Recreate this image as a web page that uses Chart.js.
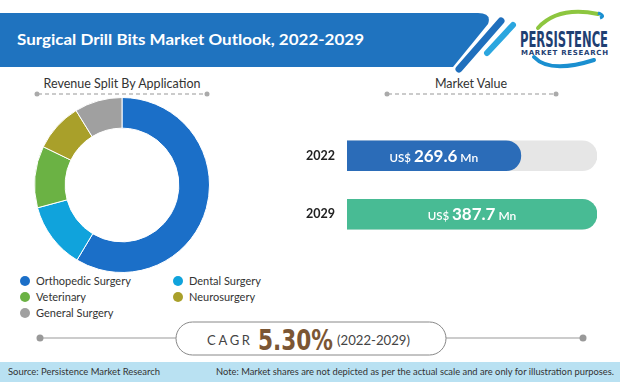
<!DOCTYPE html>
<html lang="en">
<head>
  <meta charset="UTF-8">
  <title>Surgical Drill Bits Market Outlook</title>
  <script src="https://cdn.jsdelivr.net/npm/chart.js"></script>
  <style>
    body {
      margin: 0;
      background: #ffffff;
      font-family: Lato, 'Liberation Sans', sans-serif;
    }
    #stage {
      position: relative;
      width: 620px;
      height: 382px;
      overflow: hidden;
    }
    #deco {
      position: absolute;
      left: 0;
      top: 0;
    }
    .label {
      position: absolute;
      color: #333;
      font-size: 12.5px;
      white-space: nowrap;
    }
    #donutBox {
      position: absolute;
      left: 34px;
      top: 97px;
      width: 176px;
      height: 176px;
    }
    #barBox {
      position: absolute;
      left: 300px;
      top: 115px;
      width: 297px;
      height: 140px;
    }
    #legend {
      position: absolute;
      left: 20px;
      top: 273px;
      display: grid;
      grid-template-columns: 153px auto;
      font-size: 11px;
      color: #333;
    }
    #legend div {
      height: 16px;
      line-height: 16px;
      white-space: nowrap;
    }
    #legend span {
      display: inline-block;
      width: 10px;
      height: 10px;
      border-radius: 50%;
      margin-right: 6px;
      vertical-align: -1px;
    }
  </style>
</head>
<body>
<div id="stage">
  <svg id="deco" width="620" height="382">
    <!-- header banner -->
    <path d="M0 13 L478 13 Q492 13 488 24 L453 67 L0 67 Z" fill="#1f73bf"/>
    <line x1="459" y1="69" x2="501" y2="21" stroke="#1f6fbd" stroke-width="7" stroke-linecap="round"/>
    <line x1="487" y1="53" x2="513" y2="25" stroke="#2ba6df" stroke-width="6" stroke-linecap="round"/>
    <text x="17" y="45" fill="#fff" font-family="Lato, sans-serif" font-weight="bold" font-size="16" textLength="347" lengthAdjust="spacingAndGlyphs">Surgical Drill Bits Market Outlook, 2022-2029</text>

    <!-- logo -->
    <path d="M538 28 Q558 6 598 14" fill="none" stroke="#8dc63f" stroke-width="4" stroke-linecap="round"/>
    <path d="M600 18 Q606 16 598 13" fill="none" stroke="#1a8fd0" stroke-width="3"/>
    <path d="M534 57 Q550 74 594 60" fill="none" stroke="#1a8fd0" stroke-width="4" stroke-linecap="round"/>
    <text x="520" y="47" fill="#1f3f73" font-family="'DejaVu Sans', sans-serif" font-weight="bold" font-size="22" textLength="88" lengthAdjust="spacingAndGlyphs">PERSISTENCE</text>
    <text x="521" y="55" fill="#1f3f73" font-family="'DejaVu Sans', sans-serif" font-weight="bold" font-size="7" textLength="87" lengthAdjust="spacing">MARKET RESEARCH</text>

    <!-- section headings underline -->
    <line x1="38" y1="94" x2="206" y2="94" stroke="#bbb" stroke-width="1.3" stroke-dasharray="4 3"/>
    <circle cx="37" cy="94" r="2.5" fill="#aaa"/>
    <circle cx="207" cy="94" r="2.5" fill="#aaa"/>
    <line x1="388" y1="94" x2="555" y2="94" stroke="#bbb" stroke-width="1.3" stroke-dasharray="4 3"/>
    <circle cx="387" cy="94" r="2.5" fill="#aaa"/>
    <circle cx="556" cy="94" r="2.5" fill="#aaa"/>

    <!-- CAGR pill -->
    <line x1="40" y1="338" x2="176" y2="338" stroke="#999" stroke-width="1"/>
    <line x1="446" y1="338" x2="583" y2="338" stroke="#999" stroke-width="1"/>
    <circle cx="40" cy="338" r="3.5" fill="#999"/>
    <circle cx="583" cy="338" r="3.5" fill="#999"/>
    <rect x="176" y="322" width="270" height="33" rx="16.5" fill="#fff" stroke="#888" stroke-width="1"/>
    <text x="207" y="345" fill="#444" font-family="Lato, sans-serif" font-size="13" textLength="43" lengthAdjust="spacing">CAGR</text>
    <text x="258" y="350" fill="#7b5634" font-family="'DejaVu Sans', sans-serif" font-weight="bold" font-size="28" textLength="75" lengthAdjust="spacingAndGlyphs">5.30%</text>
    <text x="337" y="345" fill="#444" font-family="Lato, sans-serif" font-size="13" textLength="73" lengthAdjust="spacingAndGlyphs">(2022-2029)</text>

    <!-- footer -->
    <rect x="0" y="362" width="620" height="20" fill="#b9e1f2"/>
    <text x="8" y="375" fill="#333" font-family="Lato, sans-serif" font-size="9.5" textLength="152" lengthAdjust="spacingAndGlyphs">Source: Persistence Market Research</text>
    <text x="216" y="375" fill="#333" font-family="Lato, sans-serif" font-size="9.5" textLength="398" lengthAdjust="spacingAndGlyphs">Note: Market shares are not depicted as per the actual scale and are only for illustration purposes.</text>
  </svg>

  <div class="label" style="left:42px; top:76px; width:160px; text-align:center;">Revenue Split By Application</div>
  <div class="label" style="left:421px; top:76px; width:100px; text-align:center;">Market Value</div>

  <div id="donutBox"><canvas id="donut"></canvas></div>
  <div id="barBox"><canvas id="bars"></canvas></div>
  <div id="legend"></div>
</div>

<script>
  // revenue split by application (share, %)
  const applications = ['Orthopedic Surgery', 'Dental Surgery', 'Veterinary', 'Neurosurgery', 'General Surgery'];
  const shares = [58.6, 12.2, 11.4, 9.0, 8.8];
  const appColors = ['#1b6fc8', '#10a3dc', '#6bb244', '#a9a02a', '#a0a0a0'];

  // market value (US$ Mn)
  const years = ['2022', '2029'];
  const marketValues = [269.6, 387.7];
  const barColors = ['#2b6cb8', '#48bb94'];

  new Chart(document.getElementById('donut'), {
    type: 'doughnut',
    data: {
      labels: applications,
      datasets: [{
        data: shares,
        backgroundColor: appColors,
        borderColor: '#ffffff',
        borderWidth: 1
      }]
    },
    options: {
      responsive: true,
      maintainAspectRatio: false,
      animation: false,
      cutout: '65%',
      layout: { padding: 0 },
      plugins: {
        legend: { display: false },
        tooltip: { enabled: false }
      }
    }
  });

  // two-column legend under the donut
  const legend = document.getElementById('legend');
  applications.forEach((name, i) => {
    const item = document.createElement('div');
    item.innerHTML = '<span style="background:' + appColors[i] + '"></span>' + name;
    legend.appendChild(item);
  });

  const maxValue = Math.max(...marketValues);

  // writes "US$ 269.6 Mn" inside each bar
  const valueLabels = {
    id: 'valueLabels',
    afterDatasetsDraw(chart) {
      const ctx = chart.ctx;
      const meta = chart.getDatasetMeta(1);
      meta.data.forEach((bar, i) => {
        const parts = [
          { text: 'US$ ', font: '600 11.5px Lato, sans-serif' },
          { text: marketValues[i].toFixed(1), font: 'bold 17px Lato, sans-serif' },
          { text: ' Mn', font: '600 12px Lato, sans-serif' }
        ];
        let total = 0;
        parts.forEach(p => { ctx.font = p.font; p.w = ctx.measureText(p.text).width; total += p.w; });
        let x = (bar.base + bar.x) / 2 - total / 2;
        ctx.save();
        ctx.fillStyle = '#ffffff';
        ctx.textBaseline = 'alphabetic';
        parts.forEach(p => {
          ctx.font = p.font;
          ctx.fillText(p.text, x, bar.y + 6);
          x += p.w;
        });
        ctx.restore();
      });
    }
  };

  new Chart(document.getElementById('bars'), {
    type: 'bar',
    data: {
      labels: years,
      datasets: [
        {
          data: years.map(() => maxValue),
          backgroundColor: '#e6e6e6',
          borderRadius: 15,
          borderSkipped: 'start',
          barThickness: 30,
          grouped: false,
          order: 2
        },
        {
          data: marketValues,
          backgroundColor: barColors,
          borderRadius: 15,
          borderSkipped: 'start',
          barThickness: 30,
          grouped: false,
          order: 1
        }
      ]
    },
    options: {
      indexAxis: 'y',
      responsive: true,
      maintainAspectRatio: false,
      animation: false,
      layout: { padding: 0 },
      plugins: {
        legend: { display: false },
        tooltip: { enabled: false }
      },
      scales: {
        x: {
          display: false,
          min: 0,
          max: maxValue
        },
        y: {
          grid: { display: false },
          border: { display: false },
          ticks: {
            color: '#222',
            font: { family: 'Lato, sans-serif', size: 12.5, weight: 'bold' },
            padding: 4
          },
          afterFit(scale) { scale.width = 47; }
        }
      }
    },
    plugins: [valueLabels]
  });
</script>
</body>
</html>
